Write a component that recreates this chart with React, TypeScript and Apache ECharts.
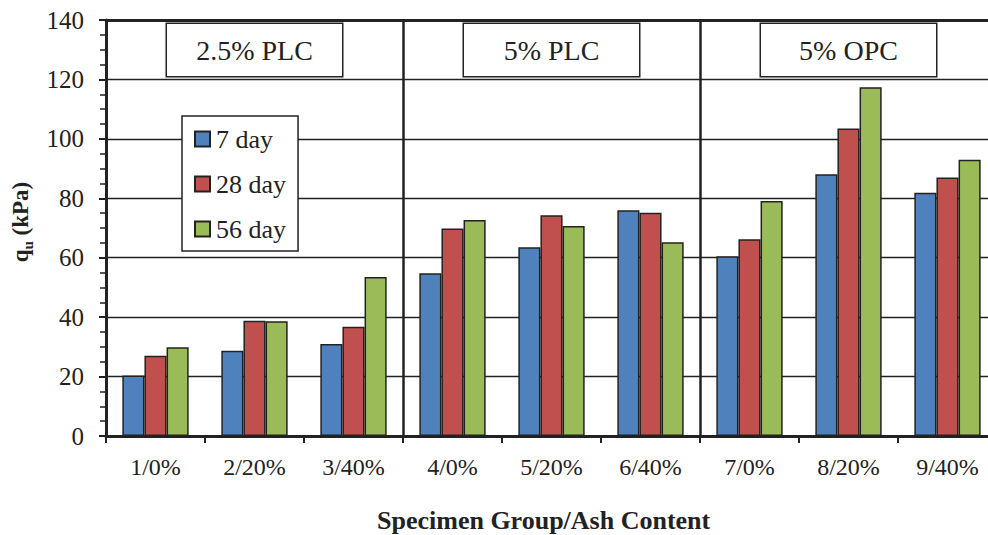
import React, { useEffect, useRef } from "react";
import * as echarts from "echarts";

const categories = ["1/0%", "2/20%", "3/40%", "4/0%", "5/20%", "6/40%", "7/0%", "8/20%", "9/40%"];
const groups = ["2.5% PLC", "5% PLC", "5% OPC"];
const seriesNames = ["7 day", "28 day", "56 day"];
const day7 = [20.4, 28.7, 31.0, 54.8, 63.5, 76.0, 60.5, 88.1, 81.9];
const day28 = [27.0, 38.8, 36.8, 69.8, 74.3, 75.1, 66.2, 103.5, 87.0];
const day56 = [29.9, 38.6, 53.5, 72.7, 70.7, 65.2, 79.1, 117.4, 93.0];
const colors = ["#4F81BD", "#C0504D", "#9BBB59"];

const FONT = "Liberation Serif";
const INK = "#222";

export default function App() {
  const ref = useRef<HTMLDivElement>(null);
  useEffect(() => {
    if (!ref.current) return;
    const chart = echarts.init(ref.current, undefined, { renderer: "svg" });
    const values = [day7, day28, day56];
    chart.setOption({
      animation: false,
      textStyle: { fontFamily: FONT, color: INK },
      title: {
        text: "Specimen Group/Ash Content",
        left: 377,
        top: 507,
        padding: 0,
        textStyle: { fontFamily: FONT, fontSize: 26, fontWeight: "bold", color: INK },
      },
      legend: {
        data: seriesNames,
        orient: "vertical",
        left: 182,
        top: 116,
        padding: [10, 12, 9, 12],
        itemGap: 19,
        itemWidth: 15,
        itemHeight: 15,
        icon: "rect",
        backgroundColor: "#fff",
        borderColor: INK,
        borderWidth: 1.5,
        textStyle: { fontFamily: FONT, fontSize: 26, color: INK, lineHeight: 26, padding: [0, 0, 0, 1] },
      },
      grid: { left: 106, top: 20, width: 891, height: 416, containLabel: false },
      xAxis: [
        {
          type: "category",
          data: categories,
          position: "bottom",
          axisLine: { onZero: false, lineStyle: { color: INK, width: 3 } },
          axisTick: { show: true, length: 7, lineStyle: { color: INK, width: 2 } },
          axisLabel: { fontFamily: FONT, fontSize: 24, color: INK, margin: 19 },
          splitLine: { show: false },
        },
        {
          type: "category",
          data: groups,
          position: "top",
          axisLine: { show: true, onZero: false, lineStyle: { color: INK, width: 3 } },
          axisTick: { show: false },
          splitLine: { show: true, interval: 0, lineStyle: { color: INK, width: 2.5 } },
          axisLabel: {
            inside: true,
            interval: 0,
            margin: 4,
            fontFamily: FONT,
            fontSize: 28,
            color: INK,
            backgroundColor: "#fff",
            borderColor: INK,
            borderWidth: 1.5,
            width: 175,
            align: "center",
            lineHeight: 28,
            padding: [12, 0, 12, 0],
          },
        },
      ],
      yAxis: {
        type: "value",
        min: 0,
        max: 140,
        interval: 20,
        name: "{q|q}{u|u}{q| (kPa)}",
        nameLocation: "middle",
        nameGap: 64,
        nameRotate: 90,
        nameTextStyle: {
          padding: [0, 0, 0, 12],
          rich: {
            q: { fontFamily: FONT, fontSize: 23, fontWeight: "bold", color: INK },
            u: { fontFamily: FONT, fontSize: 15, fontWeight: "bold", color: INK, padding: [16, 0, 0, 0] },
          },
        },
        axisLine: { show: true, lineStyle: { color: INK, width: 3 } },
        axisTick: { show: true, length: 7, lineStyle: { color: INK, width: 2 } },
        minorTick: { show: true, splitNumber: 4, length: 6, lineStyle: { color: INK, width: 1.5 } },
        axisLabel: { fontFamily: FONT, fontSize: 25, color: INK, margin: 22 },
        splitLine: { show: true, lineStyle: { color: INK, width: 1.3 } },
      },
      series: seriesNames.map((name, i) => ({
        name,
        type: "bar",
        xAxisIndex: 0,
        data: values[i],
        barGap: "0%",
        barCategoryGap: "33%",
        itemStyle: { color: colors[i], borderColor: INK, borderWidth: 1.5 },
      })),
    });
    return () => chart.dispose();
  }, []);
  return (
    <div style={{ position: "fixed", left: 0, top: 0, width: 988, height: 535, overflow: "hidden", background: "#fff" }}>
      <div ref={ref} style={{ width: 1000, height: 535 }} />
    </div>
  );
}
